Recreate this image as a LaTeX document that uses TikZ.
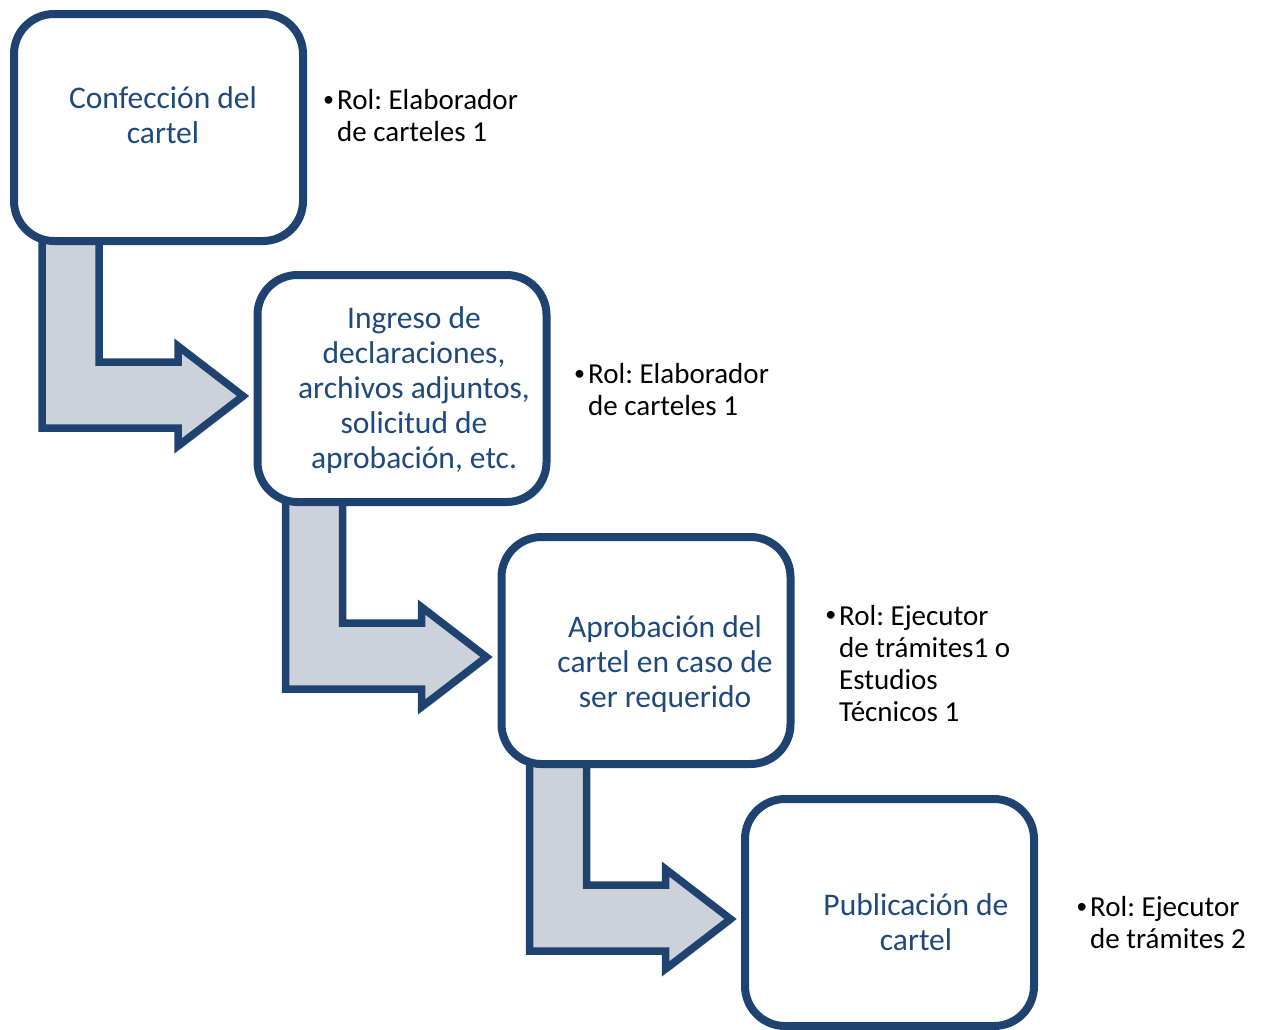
\documentclass[tikz,border=0pt]{standalone}
\usepackage{fontspec}
\setmainfont{Carlito}
\usetikzlibrary{calc,shadows}
\definecolor{boxline}{HTML}{1F4370}
\definecolor{boxtext}{HTML}{1F497D}
\definecolor{arrowfill}{HTML}{CDD1DA}
\pgfdeclarelayer{bg}
\pgfsetlayers{bg,main}
\frenchspacing
\newcommand{\rolebullet}{\llap{\raisebox{0.12em}{\fontsize{22}{22}\selectfont•}\hspace{3pt}}}
\tikzset{
  stepbox/.style={draw=boxline, line width=8pt, fill=white, rounded corners=40pt,
    minimum width=289pt, minimum height=227pt, inner sep=0pt,
    drop shadow={shadow xshift=3pt, shadow yshift=-3pt, opacity=0.25, fill=black}},
  boxlabel/.style={text=boxtext, align=center, inner sep=0pt,
    font=\fontsize{31.5}{35}\selectfont},
  rolelabel/.style={text=black, align=left, anchor=west, inner sep=0pt,
    font=\fontsize{29}{32}\selectfont},
  bentarrow/.style={draw=boxline, line width=7.5pt, fill=arrowfill, line join=miter,
    drop shadow={shadow xshift=3pt, shadow yshift=-3pt, opacity=0.25, fill=black}}
}
\newcommand{\bendarrow}[1]{%
  \begin{pgfonlayer}{bg}
  \draw[bentarrow] ($(#1.south west)+(32,-15)$) -- ($(#1.south west)+(32,183)$)
    -- ($(#1.south west)+(168,183)$) -- ($(#1.south west)+(168,201)$)
    -- ($(#1.south west)+(233,151)$) -- ($(#1.south west)+(168,101)$)
    -- ($(#1.south west)+(168,117)$) -- ($(#1.south west)+(89,117)$)
    -- ($(#1.south west)+(89,-15)$) -- cycle;
  \end{pgfonlayer}}
\begin{document}
\begin{tikzpicture}[x=1pt,y=-1pt]
\useasboundingbox (0,0) rectangle (1261,1029);
\node[stepbox] (b1) at (158.5,127.5) {};
\node[stepbox] (b2) at (402,388.5) {};
\node[stepbox] (b3) at (646,650.5) {};
\node[stepbox] (b4) at (889.5,912.5) {};
\bendarrow{b1}
\bendarrow{b2}
\bendarrow{b3}
\node[boxlabel] (t1) at (163,115) {Confección del\\cartel};
\node[boxlabel] (t2) at (414,390) {Ingreso de\\declaraciones,\\archivos adjuntos,\\solicitud de\\aprobación, etc.};
\node[boxlabel] (t3) at (665,664) {Aprobación del\\cartel en caso de\\ser requerido};
\node[boxlabel] (t4) at (916,922) {Publicación de\\cartel};
\node[rolelabel] (r1) at (337,116) {\rolebullet Rol: Elaborador\\de carteles 1};
\node[rolelabel] (r2) at (588,390) {\rolebullet Rol: Elaborador\\de carteles 1};
\node[rolelabel] (r3) at (839,663.5) {\rolebullet Rol: Ejecutor\\de trámites1 o\\Estudios\\Técnicos 1};
\node[rolelabel] (r4) at (1090,923) {\rolebullet Rol: Ejecutor\\de trámites 2};
\end{tikzpicture}
\end{document}
